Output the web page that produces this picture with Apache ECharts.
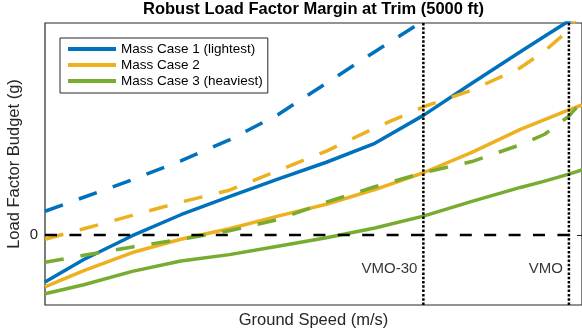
<!DOCTYPE html>
<html><head><meta charset="utf-8">
<script src="https://cdn.jsdelivr.net/npm/echarts@6/dist/echarts.min.js"></script>
<style>html,body{margin:0;padding:0;background:#fff}#c{width:582px;height:336px}</style>
</head><body><div id="c"></div>
<script>
// Ground speed samples (m/s)
const speeds = [72, 80, 90, 100, 110, 120, 130, 140, 150, 160, 170, 175, 180, 182.7];
// Load factor budget (g)
const case1Solid  = [-0.67, -0.35, -0.01, 0.29, 0.55, 0.80, 1.04, 1.31, 1.71, 2.17, 2.62, 2.84, 3.06, 3.17];
const case1Dashed = [0.34, 0.54, 0.79, 1.06, 1.36, 1.72, 2.17, 2.62, 3.06, null, null, null, null, null];
const case2Solid  = [-0.74, -0.51, -0.25, -0.06, 0.09, 0.27, 0.44, 0.65, 0.89, 1.18, 1.51, 1.65, 1.79, 1.86];
const case2Dashed = [-0.06, 0.09, 0.28, 0.47, 0.64, 0.92, 1.20, 1.53, 1.83, 2.07, 2.39, 2.63, 2.93, 3.24];
const case3Solid  = [-0.84, -0.71, -0.52, -0.37, -0.28, -0.16, -0.04, 0.10, 0.27, 0.48, 0.68, 0.77, 0.87, 0.93];
const case3Dashed = [-0.39, -0.29, -0.17, -0.06, 0.06, 0.22, 0.47, 0.69, 0.89, 1.05, 1.29, 1.44, 1.70, 1.91];
const caseNames = ['Mass Case 1 (lightest)', 'Mass Case 2', 'Mass Case 3 (heaviest)'];
const refSpeeds = [150, 180];
const refLabels = ['VMO-30', 'VMO'];
const refLabelY = -0.49;
const xRange = [72, 182.7];
const yRange = [-1, 3.03];
const yTicks = [0];
const titleText = 'Robust Load Factor Margin at Trim (5000 ft)';

const colors = ['#0072BD', '#EDB120', '#77AC30'];
const FONT = '"Liberation Sans", Arial, Helvetica, sans-serif';
const pair = arr => speeds.map((s, i) => [s, arr[i]]).filter(p => p[1] !== null);

function curve(name, arr, color, dashed) {
  return {
    type: 'line', name: name, data: pair(arr), symbol: 'none', silent: true,
    color: color, clip: true, z: 3,
    lineStyle: { color: color, width: 3.5, type: dashed ? [19, 17] : 'solid', cap: 'butt', join: 'round' }
  };
}

const series = [
  curve(caseNames[0], case1Solid, colors[0], false),
  curve(caseNames[1], case2Solid, colors[1], false),
  curve(caseNames[2], case3Solid, colors[2], false),
  curve(caseNames[0] + ' dashed', case1Dashed, colors[0], true),
  curve(caseNames[1] + ' dashed', case2Dashed, colors[1], true),
  curve(caseNames[2] + ' dashed', case3Dashed, colors[2], true),
  {
    type: 'line', name: 'zero', data: [[xRange[0], 0], [xRange[1], 0]], symbol: 'none', z: 5, silent: true,
    lineStyle: { color: '#000', width: 2.5, type: [12, 12.4], cap: 'butt' }
  }
];
refSpeeds.forEach((s, i) => {
  series.push({
    type: 'line', name: 'ref' + i, data: [[s, yRange[0]], [s, yRange[1]]], symbol: 'none', z: 6, silent: true,
    lineStyle: { color: '#000', width: 2.5, type: [2.5, 1.8], cap: 'butt' }
  });
});
series.push({
  type: 'scatter', name: 'refLabels', symbolSize: 0, z: 7, silent: true,
  data: refSpeeds.map((s, i) => ({ value: [s, refLabelY], name: refLabels[i] })),
  label: { show: true, position: 'left', distance: 6, formatter: p => p.name,
    fontFamily: FONT, fontSize: 15, color: '#000' }
});

const chart = echarts.init(document.getElementById('c'), null, { renderer: 'canvas' });
chart.setOption({
  animation: false,
  backgroundColor: '#fff',
  textStyle: { fontFamily: FONT },
  grid: { left: 45, right: 0, top: 23, bottom: 31, containLabel: false, outerBoundsMode: 'none',
    show: true, borderColor: '#262626', borderWidth: 1.2, backgroundColor: '#fff' },
  graphic: [{
    type: 'text', x: 313.5, y: 9.5, z: 10,
    style: { text: titleText, textAlign: 'center', textVerticalAlign: 'middle',
      font: 'bold 16.5px ' + FONT, fill: '#000' }
  }],
  legend: {
    data: caseNames, orient: 'vertical', left: 60, top: 38,
    icon: 'rect', itemWidth: 48, itemHeight: 4, itemGap: 0,
    padding: [3, 5, 4, 8], borderColor: '#262626', borderWidth: 1, backgroundColor: '#fff',
    textStyle: { fontFamily: FONT, fontSize: 13.5, lineHeight: 16, color: '#000' },
    selectedMode: false
  },
  xAxis: {
    type: 'value', min: xRange[0], max: xRange[1],
    axisLine: { show: false }, axisTick: { show: false }, axisLabel: { show: false }, splitLine: { show: false },
    name: 'Ground Speed (m/s)', nameLocation: 'middle', nameGap: 7,
    nameTextStyle: { fontFamily: FONT, fontSize: 16.5, color: '#262626', verticalAlign: 'top' }
  },
  yAxis: [{
    type: 'value', min: yRange[0], max: yRange[1], position: 'left',
    axisLine: { show: false }, splitLine: { show: false },
    axisTick: { show: true, inside: true, length: 5, customValues: yTicks, lineStyle: { color: '#262626', width: 1 } },
    axisLabel: { show: true, customValues: yTicks, margin: 7, fontFamily: FONT, fontSize: 15, color: '#262626' },
    name: 'Load Factor Budget (g)', nameLocation: 'middle', nameGap: 22, nameRotate: 90,
    nameMoveOverlap: false,
    nameTextStyle: { fontFamily: FONT, fontSize: 16.5, color: '#262626' }
  }, {
    type: 'value', min: yRange[0], max: yRange[1], position: 'right',
    axisLine: { show: false }, splitLine: { show: false },
    axisTick: { show: true, inside: true, length: 5, customValues: yTicks, lineStyle: { color: '#262626', width: 1 } },
    axisLabel: { show: false }
  }],
  series: series
});
</script></body></html>
